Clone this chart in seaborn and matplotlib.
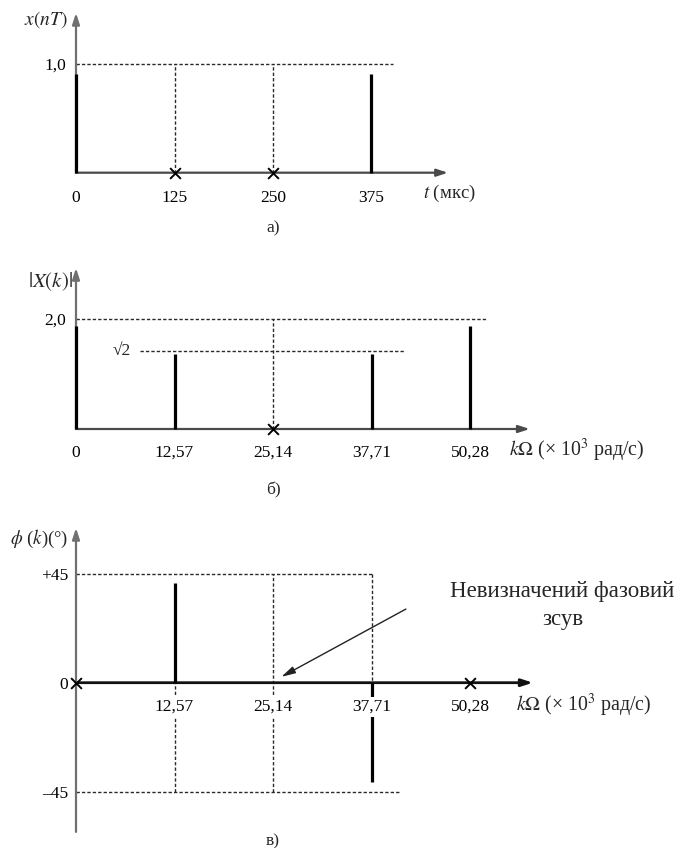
import numpy as np
import matplotlib
matplotlib.use("Agg")
import matplotlib.pyplot as plt
import seaborn as sns

# ---- signal samples x(nT) ----
t_us = [0, 125, 250, 375]
x_nT = [0.91, 0.0, 0.0, 0.91]
t_tick_labels = ["0", "125", "250", "375"]
x_ref = 1.0

# ---- DFT magnitude / phase ----
k_omega = [0, 12.57, 25.14, 37.71, 50.28]
k_tick_labels = ["0", "12,57", "25,14", "37,71", "50,28"]
mag = [1.87, 1.36, 0.0, 1.36, 1.87]
mag_refs = [2.0, np.sqrt(2)]
phase = [0.0, 41.0, np.nan, -41.0, 0.0]
phase_ticks = [-45, 0, 45]
phase_tick_labels = ["\u201345", "0", "+45"]

sns.set_theme(style="white")
plt.rcParams["font.family"] = ["Liberation Serif", "DejaVu Serif"]
plt.rcParams["mathtext.fontset"] = "stix"

W, H = 675, 848
fig = plt.figure(figsize=(W / 100, H / 100), dpi=100)

AX_COLOR = "#707070"
DASH = dict(color="#2a2a2a", lw=1.0, ls=(0, (2.4, 1.5)), zorder=1.5)
FS = 12.5      # tick labels
FS_LAB = 13.5  # axis titles


def place_axes(x0_px, px_per_x, y0_px, px_per_y, top_px, bottom_px):
    ax = fig.add_axes([0, 1 - bottom_px / H, 1, (bottom_px - top_px) / H])
    ax.patch.set_alpha(0)
    for s in ("top", "right"):
        ax.spines[s].set_visible(False)
    for s in ("left", "bottom"):
        ax.spines[s].set_position(("data", 0))
        ax.spines[s].set_visible(False)
    ax.tick_params(length=0, labelsize=FS, colors="black")
    ax.grid(False)
    return ax


def set_limits(ax, x0_px, px_per_x, y0_px, px_per_y, top_px, bottom_px):
    ax.set_xlim((0 - x0_px) / px_per_x, (W - x0_px) / px_per_x)
    ax.set_ylim((y0_px - bottom_px) / px_per_y, (y0_px - top_px) / px_per_y)


def axis_arrow(ax, start, end, color=AX_COLOR, lw=1.6):
    ax.annotate("", xy=end, xytext=start,
                arrowprops=dict(arrowstyle="-|>,head_length=0.55,head_width=0.18",
                                color=color, lw=lw, shrinkA=0, shrinkB=0),
                zorder=3, annotation_clip=False)


def zeros_marks(ax, xs, ys):
    zx = [x for x, y in zip(xs, ys) if y == 0]
    sns.scatterplot(x=zx, y=[0] * len(zx), marker="x", s=60, color="black",
                    linewidth=1.4, ax=ax, zorder=4, legend=False)


def stems(ax, xs, ys, lw=2.3):
    xs = np.asarray(xs, float)
    ys = np.asarray(ys, float)
    m = np.isfinite(ys) & (ys != 0)
    ax.vlines(xs[m], 0, ys[m], colors="black", lw=lw, zorder=3.5)


# ================= а) =================
geo_a = (76, 98.5 / 125, 172.7, 108.7, 0, 240)
ax = place_axes(*geo_a)
axis_arrow(ax, (0, 0), (472, 0), color="#4a4a4a")
axis_arrow(ax, (0, 0), (0, 1.47))
ax.plot([0, 402], [x_ref, x_ref], **DASH)
for t, v in zip(t_us, x_nT):
    if v == 0:
        ax.plot([t, t], [0, x_ref], **DASH)
stems(ax, t_us, x_nT)
zeros_marks(ax, t_us, x_nT)
ax.set_xticks(t_us, t_tick_labels)
ax.set_yticks([x_ref], ["1,0"])
ax.tick_params(axis="x", pad=12.5)
ax.tick_params(axis="y", pad=7)
ax.text(-38, 1.41, "$x(nT)$", fontsize=FS_LAB + 0.5, ha="center", va="center")
ax.text(440, -0.19, "$t$ (мкс)", fontsize=FS_LAB, ha="left", va="center")
ax.text(250, -0.51, "а)", fontsize=12.5, ha="center", va="center")
set_limits(ax, *geo_a)

# ================= б) =================
pxk = 98.5 / 12.57
geo_b = (76, pxk, 429, 55.15, 245, 500)
ax = place_axes(*geo_b)
axis_arrow(ax, (0, 0), (57.9, 0), color="#4a4a4a")
axis_arrow(ax, (0, 0), (0, 2.92))
ax.plot([0, 52.4], [mag_refs[0], mag_refs[0]], **DASH)
ax.plot([8.2, 42.0], [mag_refs[1], mag_refs[1]], **DASH)
for k, v in zip(k_omega, mag):
    if v == 0:
        ax.plot([k, k], [0, mag_refs[0]], **DASH)
stems(ax, k_omega, mag)
zeros_marks(ax, k_omega, mag)
ax.set_xticks(k_omega, k_tick_labels)
ax.set_yticks([mag_refs[0]], ["2,0"])
ax.tick_params(axis="x", pad=11.5)
ax.tick_params(axis="y", pad=7)
ax.text(7.0, mag_refs[1], "\u221a2", fontsize=FS, ha="right", va="center")
ax.text(-3.3, 2.68, "$|X(k)|$", fontsize=FS_LAB + 1.5, ha="center", va="center")
ax.text(55.2, -0.39, "$k\\Omega$ (\u00d7 10$^3$ рад/с)", fontsize=14.3,
        ha="left", va="center")
ax.text(25.14, -1.11, "б)", fontsize=12.5, ha="center", va="center")
set_limits(ax, *geo_b)

# ================= в) =================
pyp = 109 / 45
geo_c = (76, pxk, 682.7, pyp, 505, 848)
ax = place_axes(*geo_c)
axis_arrow(ax, (0, 0), (58.3, 0), color="#111111", lw=2.0)
axis_arrow(ax, (0, -61.6), (0, 63.9))
ax.plot([0, k_omega[3]], [45, 45], **DASH)
ax.plot([k_omega[3], k_omega[3]], [45, 0], **DASH)
ax.plot([0, 41.2], [-45, -45], **DASH)
ax.plot([k_omega[1], k_omega[1]], [-45, 0], **DASH)
ax.plot([k_omega[2], k_omega[2]], [-45, 45], **DASH)
stems(ax, k_omega, phase)
zeros_marks(ax, k_omega, phase)
ax.set_xticks(k_omega[1:], k_tick_labels[1:])
ax.set_yticks(phase_ticks, phase_tick_labels)
ax.tick_params(axis="x", pad=11.5)
ax.tick_params(axis="y", pad=5.5)
ax.text(-4.7, 59.5, "$\\phi$ ($k$)(°)", fontsize=FS_LAB, ha="center", va="center")
ax.text(56.2, -9.5, "$k\\Omega$ (\u00d7 10$^3$ рад/с)", fontsize=14.3,
        ha="left", va="center")
ax.text(25.14, -65.5, "в)", fontsize=12.5, ha="center", va="center")
# undefined phase at k = 2
ax.annotate("", xy=(26.2, 2.4), xytext=(42.1, 30.4),
            arrowprops=dict(arrowstyle="-|>,head_length=0.7,head_width=0.18",
                            color="#222222", lw=1.0, shrinkA=0, shrinkB=0))
ax.text(62.1, 37.5, "Невизначений фазовий", fontsize=16.5,
        ha="center", va="center")
ax.text(62.1, 26.0, "зсув", fontsize=16.5, ha="center", va="center")
set_limits(ax, *geo_c)
# tick labels sit on a white patch so the stems and dashes break under them
ax.xaxis.set_zorder(5)
for lbl in ax.get_xticklabels():
    lbl.set_bbox(dict(facecolor="white", edgecolor="none", pad=1.5))

fig.savefig("out.png", dpi=100)
